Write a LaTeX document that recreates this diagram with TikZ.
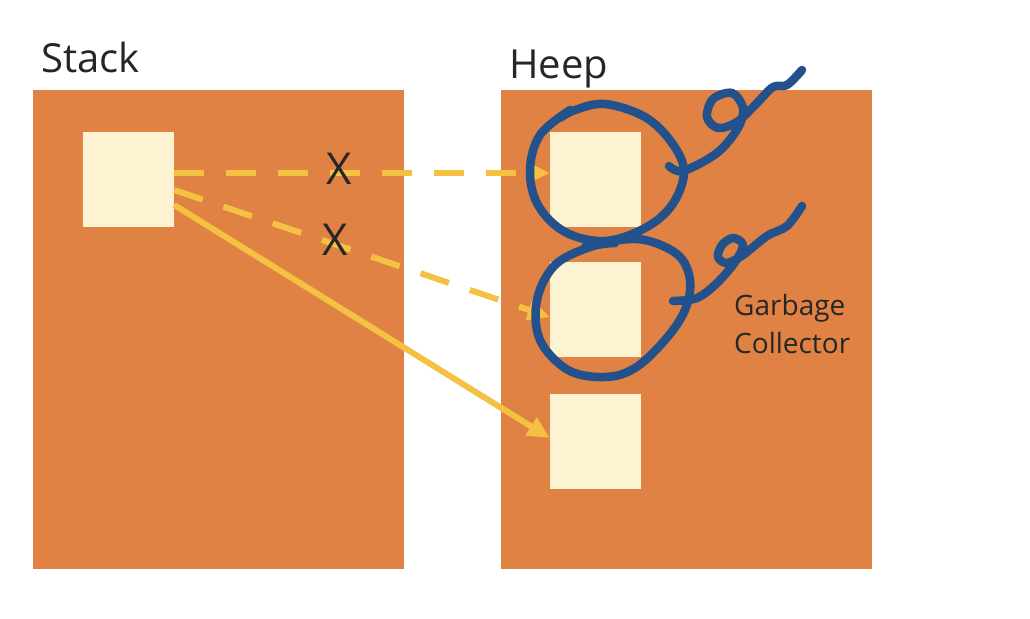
\documentclass[tikz,border=0pt]{standalone}
\usepackage{fontspec}
\setmainfont{Open Sans}
\usetikzlibrary{arrows.meta}
\definecolor{orng}{HTML}{DF8244}
\definecolor{cream}{HTML}{FDF2D2}
\definecolor{ylw}{HTML}{F4C142}
\definecolor{inkblue}{HTML}{22518C}
\begin{document}
\begin{tikzpicture}[x=1pt,y=-1pt,
  panel/.style={fill=orng, draw=none, minimum width=371pt, minimum height=479pt, inner sep=0pt},
  cell/.style={fill=cream, draw=none, minimum width=91pt, minimum height=95pt, inner sep=0pt},
  ref/.style={draw=ylw, line width=6pt, -{Triangle[length=22pt,width=20pt]}},
  dashref/.style={ref, dash pattern=on 30pt off 22pt},
  ink/.style={draw=inkblue, line width=8.5pt, line cap=round, line join=round},
  lbl/.style={inner sep=0pt, text=black!85}
]
\useasboundingbox (0,0) rectangle (1030,618);
\fill[white] (0,0) rectangle (1030,618);
\node[panel] (stack) at (218,329.5) {};
\node[panel] (heap) at (686,329.5) {};
\node[lbl, anchor=base west, font=\fontsize{40}{46}\selectfont] (stacklbl) at (41,72) {Stack};
\node[lbl, anchor=base west, font=\fontsize{40}{46}\selectfont] (heaplbl) at (509,78) {Heep};
\node[cell] (sbox) at (128.5,179.5) {};
\node[cell] (hb1) at (595.5,179.5) {};
\node[cell] (hb2) at (595.5,309.5) {};
\node[cell] (hb3) at (595.5,441) {};
\draw[dashref] ([yshift=6.5pt]sbox.east) -- ([yshift=6.5pt]hb1.west);
\draw[dashref] ([yshift=-10.5pt]sbox.east) -- ([yshift=-7.5pt]hb2.west);
\draw[ref] ([yshift=-25.5pt]sbox.east) -- ([yshift=3pt]hb3.west);
\node[lbl, font=\fontsize{44}{50}\selectfont] (x1) at (339,169) {X};
\node[lbl, font=\fontsize{44}{50}\selectfont] (x2) at (335,240) {X};
\node[lbl, anchor=base west, font=\fontsize{28}{38}\selectfont, align=left] (gc) at (734,353) {Garbage\\Collector};
% scribbles
\draw[ink] plot[smooth, tension=0.6] coordinates {(560,118) (575,110) (605,104) (645,117) (672,143) (684,172) (672,205) (645,228) (605,241) (565,232) (538,205) (530,170) (540,135) (570,110)};
\draw[ink] plot[smooth, tension=0.55] coordinates {(669,166) (683,171) (717,153) (738,128) (743,108) (732,93) (713,99) (707,117) (718,128) (737,122) (757,103) (773,87) (787,85) (802,70)};
\draw[ink] plot[smooth, tension=0.6] coordinates {(585,247) (612,241) (645,240) (678,255) (690,280) (685,310) (665,340) (635,368) (605,377) (568,370) (540,340) (537,300) (555,265) (590,247) (615,243)};
\draw[ink] plot[smooth, tension=0.55] coordinates {(673,301) (697,298) (717,283) (735,262) (743,245) (733,238) (722,245) (718,257) (727,263) (743,255) (767,236) (787,226) (802,206)};
\end{tikzpicture}
\end{document}
